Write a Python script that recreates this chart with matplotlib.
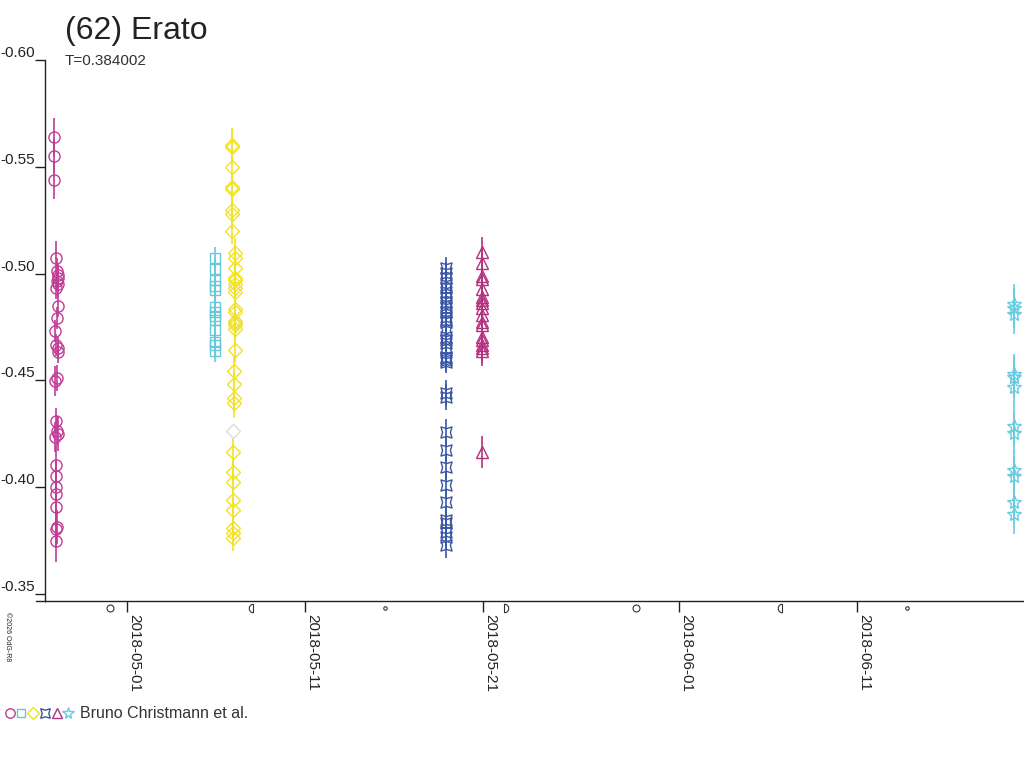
import numpy as np
import matplotlib
matplotlib.use("Agg")
import matplotlib.pyplot as plt
import matplotlib.dates as mdates
import matplotlib.lines as mlines
from matplotlib.path import Path

plt.rcParams['font.family'] = ['Liberation Sans', 'DejaVu Sans']

# time in days since 2018-05-01 00:00 UT, magnitude difference
t_circ = [-4.10, -4.10, -4.10, -4.01, -3.95, -3.89, -3.86, -3.95, -3.89, -3.99,
          -3.89, -3.91, -4.03, -3.99, -3.86, -3.89, -3.95, -4.04, -3.99, -3.93,
          -3.87, -4.04, -3.99, -3.99, -3.99, -3.99, -3.99, -3.95, -3.99, -3.99]
m_circ = [-0.5639, -0.5551, -0.5438, -0.5073, -0.5012, -0.4993, -0.4979, -0.4965, -0.4951, -0.4932,
          -0.4848, -0.4792, -0.4731, -0.4666, -0.4652, -0.4633, -0.4511, -0.4497, -0.4310, -0.4263,
          -0.4249, -0.4235, -0.4104, -0.4052, -0.4001, -0.3968, -0.3907, -0.3813, -0.3804, -0.3748]
e_circ = [0.009, 0.008, 0.009, 0.008, 0.006, 0.005, 0.006, 0.005, 0.006, 0.005,
          0.005, 0.005, 0.005, 0.005, 0.005, 0.005, 0.006, 0.007, 0.006, 0.007,
          0.008, 0.007, 0.009, 0.008, 0.007, 0.008, 0.009, 0.008, 0.009, 0.010]

t_sq = [4.94, 4.94, 4.95, 4.95, 4.96, 4.94, 4.97, 4.97, 4.96, 4.96, 4.97, 4.96, 4.96]
m_sq = [-0.5073, -0.5021, -0.4970, -0.4942, -0.4923, -0.4844, -0.4820, -0.4801, -0.4783,
        -0.4736, -0.4680, -0.4666, -0.4638]
e_sq = [0.005, 0.005, 0.005, 0.005, 0.005, 0.005, 0.005, 0.005, 0.005, 0.005, 0.005, 0.005, 0.005]

t_dia = [5.90, 5.90, 5.90, 5.90, 5.91, 5.90, 5.90, 5.90, 6.04, 6.05,
         6.04, 6.05, 6.04, 6.05, 6.04, 6.05, 6.04, 6.05, 6.04, 6.05,
         6.04, 6.04, 6.04, 5.99, 6.02, 5.99, 6.01, 5.97, 5.96, 5.96,
         5.96, 5.96, 5.96, 5.96, 5.96]
m_dia = [-0.5602, -0.5593, -0.5499, -0.5405, -0.5396, -0.5298, -0.5279, -0.5199, -0.5096, -0.5073,
         -0.5026, -0.4979, -0.4970, -0.4951, -0.4932, -0.4914, -0.4834, -0.4820, -0.4778, -0.4769,
         -0.4759, -0.4741, -0.4642, -0.4544, -0.4483, -0.4417, -0.4394, -0.4165, -0.4071, -0.4024,
         -0.3940, -0.3893, -0.3809, -0.3785, -0.3762]
e_dia = [0.008, 0.007, 0.006, 0.007, 0.006, 0.006, 0.007, 0.006, 0.007, 0.006,
         0.007, 0.006, 0.006, 0.006, 0.007, 0.006, 0.006, 0.007, 0.006, 0.007,
         0.006, 0.006, 0.006, 0.007, 0.006, 0.006, 0.007, 0.006, 0.006, 0.006,
         0.006, 0.006, 0.006, 0.006, 0.006]

t_faint = [5.93]
m_faint = [-0.4263]

t_x = [17.90] * 35
m_x = [-0.5026, -0.5003, -0.4979, -0.4947, -0.4932, -0.4914, -0.4890, -0.4867, -0.4853, -0.4839,
       -0.4820, -0.4797, -0.4783, -0.4773, -0.4736, -0.4703, -0.4689, -0.4675, -0.4652, -0.4609,
       -0.4605, -0.4595, -0.4586, -0.4441, -0.4422, -0.4258, -0.4174, -0.4094, -0.4010, -0.3931,
       -0.3846, -0.3832, -0.3790, -0.3767, -0.3729]
e_x = [0.005] * 23 + [0.006] * 12

t_tri = [19.94] * 18
m_tri = [-0.5101, -0.5050, -0.4989, -0.4975, -0.4928, -0.4890, -0.4876, -0.4862, -0.4839,
         -0.4806, -0.4773, -0.4759, -0.4703, -0.4689, -0.4666, -0.4652, -0.4638, -0.4165]
e_tri = [0.007] * 17 + [0.0075]

t_star = [49.83] * 12
m_star = [-0.4858, -0.4839, -0.4811, -0.4530, -0.4516, -0.4469, -0.4286, -0.4254,
          -0.4080, -0.4052, -0.3931, -0.3874]
e_star = [0.0095] * 12

# moon phases (days since 2018-05-01): 0 new, 1 first quarter, 2 full, 3 last quarter
t_moon = [-0.96, 7.09, 14.49, 21.16, 28.60, 36.77, 43.82]
moon_phase = [2, 3, 0, 1, 2, 3, 0]

date_ticks = ["2018-05-01", "2018-05-11", "2018-05-21", "2018-06-01", "2018-06-11"]
y_ticks = [-0.60, -0.55, -0.50, -0.45, -0.40, -0.35]

t0 = mdates.date2num(np.datetime64("2018-05-01"))

# square with concave sides for the fourth data set
cq = Path([(-1, -1), (0, -0.7), (1, -1), (0.7, 0), (1, 1), (0, 0.7), (-1, 1), (-0.7, 0), (-1, -1)],
          [Path.MOVETO] + [Path.LINETO] * 7 + [Path.CLOSEPOLY])

fig = plt.figure(figsize=(10.24, 7.68), dpi=100)
ax = fig.add_axes([45 / 1024, 167 / 768, 979 / 1024, 541 / 768])

series = [
    (t_circ, m_circ, e_circ, 'o', 8, '#c03c96'),
    (t_sq, m_sq, e_sq, 's', 7, '#66c8da'),
    (t_dia, m_dia, e_dia, 'D', 7, '#f2e227'),
    (t_x, m_x, e_x, cq, 8, '#3a56a6'),
    (t_tri, m_tri, e_tri, '^', 8, '#b3317f'),
    (t_star, m_star, e_star, '*', 10, '#66cde0'),
]
for t, m, e, mk, ms, col in series:
    tt = t0 + np.array(t)
    ax.errorbar(tt, m, yerr=e, fmt='none', ecolor=col, elinewidth=1.2, capsize=0)
    ax.plot(tt, m, ls='none', marker=mk, ms=ms, mfc='none', mec=col, mew=1.0)
ax.plot(t0 + np.array(t_faint), m_faint, ls='none', marker='D', ms=7, mfc='none',
        mec='#dcdcd0', mew=1.0)

ax.set_xlim(t0 - 4.607, t0 + 50.39)
ax.set_ylim(-0.3467, -0.60)

for s in ['top', 'right']:
    ax.spines[s].set_visible(False)
for s in ['left', 'bottom']:
    ax.spines[s].set_color('#222222')
    ax.spines[s].set_linewidth(1.0)
ax.plot([-0.0093, 0], [0, 0], transform=ax.transAxes, color='#222222', lw=1.0, clip_on=False)

ax.set_yticks(y_ticks)
ax.set_yticklabels(["%.2f" % v for v in y_ticks])
for lab in ax.get_yticklabels():
    lab.set_va('bottom')
ax.tick_params(axis='y', length=7.5, width=1.0, pad=0, labelsize=11, colors='#222222')

ax.set_xticks([mdates.date2num(np.datetime64(d)) for d in date_ticks])
ax.set_xticklabels(date_ticks, rotation=-90, ha='left', va='top')
ax.tick_params(axis='x', length=8, width=1.0, pad=1, labelsize=11, colors='#222222')

# moon phase symbols under the axis
half_left = Path.arc(90, 270)
half_left = Path(np.vstack([half_left.vertices, [[0, 1]]]), closed=False)
half_right = Path.arc(-90, 90)
half_right = Path(np.vstack([half_right.vertices, [[0, -1]]]), closed=False)
for tm, ph in zip(t_moon, moon_phase):
    if ph == 2:
        mk, ms = 'o', 5
    elif ph == 0:
        mk, ms = 'o', 2.5
    elif ph == 3:
        mk, ms = half_left, 6
    else:
        mk, ms = half_right, 6
    ax.plot([t0 + tm], [-0.013], marker=mk, ms=ms, mfc='none', mec='#333333', mew=0.8,
            transform=ax.get_xaxis_transform(), clip_on=False)

fig.text(65 / 1024, 1 - 39 / 768, "(62) Erato", fontsize=23, color='#222222', va='baseline')
fig.text(65 / 1024, 1 - 65 / 768, "T=0.384002", fontsize=11, color='#333333', va='baseline')
fig.text(4 / 1024, 1 - 612 / 768, "©2026 OdG-R8", fontsize=5, rotation=-90,
         ha='left', va='top', color='#222222')

# legend row
leg_x = [10, 21, 33, 45, 57, 68]
for (t, m, e, mk, ms, col), lx in zip(series, leg_x):
    fig.add_artist(mlines.Line2D([lx / 1024], [1 - 713 / 768], transform=fig.transFigure,
                                 marker=mk, ms=ms * 0.85, mfc='none', mec=col, mew=1.0, ls='none'))
fig.text(80 / 1024, 1 - 713 / 768, "Bruno Christmann et al.", fontsize=11.5,
         color='#333333', va='center')

fig.savefig("out.png", dpi=100)
